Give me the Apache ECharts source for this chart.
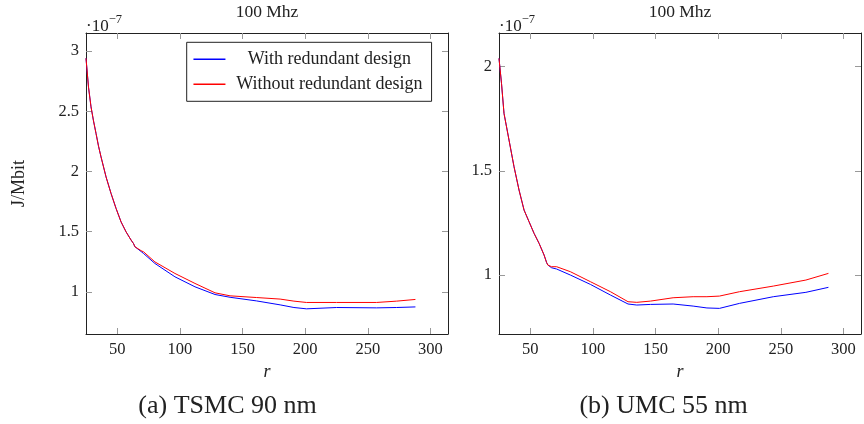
<!DOCTYPE html>
<html><head><meta charset="utf-8">
<script src="https://cdn.jsdelivr.net/npm/echarts@6/dist/echarts.min.js"></script>
<style>html,body{margin:0;padding:0;background:#fff}#c{width:864px;height:424px}</style>
</head><body><div id="c"></div>
<script>
// Energy values in units of 1e-7 J/Mbit
const rA = [25, 27, 29, 31, 33, 35, 37, 41, 45, 49, 53, 57, 61, 63, 64, 69, 71, 80, 96, 112, 128, 140, 161, 180, 191, 201, 225, 257, 273, 288];
const withA = [2.94, 2.70, 2.537, 2.42, 2.316, 2.21, 2.121, 1.955, 1.817, 1.693, 1.581, 1.498, 1.43, 1.40, 1.375, 1.335, 1.318, 1.236, 1.125, 1.042, 0.978, 0.955, 0.925, 0.892, 0.870, 0.859, 0.870, 0.867, 0.870, 0.875];
const withoutA = [2.94, 2.70, 2.537, 2.42, 2.316, 2.21, 2.121, 1.955, 1.817, 1.693, 1.581, 1.498, 1.43, 1.40, 1.375, 1.342, 1.332, 1.249, 1.153, 1.070, 0.992, 0.967, 0.953, 0.940, 0.923, 0.912, 0.912, 0.912, 0.923, 0.937];
const rB = [25, 27, 29, 33, 37, 41, 45, 49, 53, 57, 61, 63, 64, 67, 71, 82, 98, 114, 128, 135, 146, 164, 180, 191, 201, 217, 244, 270, 288];
const withB = [2.04, 1.92, 1.776, 1.648, 1.52, 1.408, 1.312, 1.256, 1.20, 1.152, 1.096, 1.06, 1.048, 1.035, 1.029, 1.000, 0.955, 0.904, 0.861, 0.856, 0.859, 0.861, 0.851, 0.842, 0.840, 0.864, 0.896, 0.917, 0.941];
const withoutB = [2.04, 1.92, 1.776, 1.648, 1.52, 1.408, 1.312, 1.256, 1.20, 1.152, 1.096, 1.06, 1.048, 1.040, 1.040, 1.016, 0.968, 0.920, 0.872, 0.869, 0.875, 0.891, 0.896, 0.896, 0.899, 0.920, 0.947, 0.976, 1.008];
const xTicks = [50, 100, 150, 200, 250, 300];
const yTicksA = [1, 1.5, 2, 2.5, 3];
const yTicksB = [1, 1.5, 2];
const seriesNames = ['With redundant design', 'Without redundant design'];
const titles = ['100 Mhz', '100 Mhz'];
const captions = ['(a) TSMC 90 nm', '(b) UMC 55 nm'];
const yLabel = 'J/Mbit';
const xLabel = 'r';

const FONT = 'Liberation Serif';
const chart = echarts.init(document.getElementById('c'), null, {renderer: 'canvas'});

const grids = [
  {left: 86, top: 33, width: 362, height: 301},
  {left: 499, top: 33, width: 362, height: 301}
];
const yRanges = [[0.65, 3.15], [0.717, 2.162]];
const yTicksList = [yTicksA, yTicksB];

function xAx(g, pos, show) {
  return {
    type: 'value', gridIndex: g, position: pos, min: 25, max: 314,
    axisLine: {show: true, onZero: false, lineStyle: {color: '#222', width: 1}},
    axisTick: {show: true, inside: true, length: 6, customValues: xTicks, lineStyle: {color: '#999'}},
    axisLabel: {show: show, customValues: xTicks, margin: 7, color: '#222', fontFamily: FONT, fontSize: 16.5},
    splitLine: {show: false}
  };
}
function yAx(g, pos, show) {
  return {
    type: 'value', gridIndex: g, position: pos, min: yRanges[g][0], max: yRanges[g][1],
    axisLine: {show: true, onZero: false, lineStyle: {color: '#222', width: 1}},
    axisTick: {show: true, inside: true, length: 6, customValues: yTicksList[g], lineStyle: {color: '#999'}},
    axisLabel: {show: show, customValues: yTicksList[g], margin: 7, color: '#222', fontFamily: FONT, fontSize: 16.5},
    splitLine: {show: false}
  };
}

function pairs(xs, ys) { return xs.map((x, i) => [x, ys[i]]); }

const series = [
  {name: seriesNames[0], type: 'line', xAxisIndex: 0, yAxisIndex: 0, data: pairs(rA, withA), showSymbol: false, symbol: 'none', lineStyle: {color: '#0000ff', width: 1}, itemStyle: {color: '#0000ff'}, z: 2},
  {name: seriesNames[1], type: 'line', xAxisIndex: 0, yAxisIndex: 0, data: pairs(rA, withoutA), showSymbol: false, symbol: 'none', lineStyle: {color: '#ff0000', width: 1}, itemStyle: {color: '#ff0000'}, z: 3},
  {name: seriesNames[0], type: 'line', xAxisIndex: 2, yAxisIndex: 2, data: pairs(rB, withB), showSymbol: false, symbol: 'none', lineStyle: {color: '#0000ff', width: 1}, itemStyle: {color: '#0000ff'}, z: 2},
  {name: seriesNames[1], type: 'line', xAxisIndex: 2, yAxisIndex: 2, data: pairs(rB, withoutB), showSymbol: false, symbol: 'none', lineStyle: {color: '#ff0000', width: 1}, itemStyle: {color: '#ff0000'}, z: 3}
];

const txt = (x, y, text, size, extra) => Object.assign({
  type: 'text', x: x, y: y,
  style: Object.assign({text: text, fill: '#222', font: size + 'px "' + FONT + '"', align: 'center', verticalAlign: 'middle'}, extra || {})
});

const graphics = [];
grids.forEach((g, i) => {
  const cx = g.left + g.width / 2;
  graphics.push(txt(cx, 12, titles[i], 17.5));
  graphics.push({
    type: 'text', x: g.left, y: 24,
    style: {
      text: '{a|·10}{b|−7}',
      rich: {
        a: {fontFamily: FONT, fontSize: 17, fill: '#222', verticalAlign: 'bottom'},
        b: {fontFamily: FONT, fontSize: 12.5, fill: '#222', padding: [0, 0, 9, 0], verticalAlign: 'bottom'}
      },
      align: 'left', verticalAlign: 'middle'
    }
  });
  graphics.push(txt(cx, 372, xLabel, 18, {font: 'italic 18px "' + FONT + '"'}));
});
graphics.push(txt(227.5, 406, captions[0], 26));
graphics.push(txt(663.6, 406, captions[1], 26));
graphics.push({type: 'text', x: 19, y: 183.5, rotation: Math.PI / 2,
  style: {text: yLabel, fill: '#222', font: '18px "' + FONT + '"', align: 'center', verticalAlign: 'middle'}});

chart.setOption({
  animation: false,
  backgroundColor: '#fff',
  grid: grids,
  xAxis: [xAx(0, 'bottom', true), xAx(0, 'top', false), xAx(1, 'bottom', true), xAx(1, 'top', false)],
  yAxis: [yAx(0, 'left', true), yAx(0, 'right', false), yAx(1, 'left', true), yAx(1, 'right', false)],
  legend: {
    left: 186.7, top: 42.3, orient: 'vertical', selectedMode: false,
    data: seriesNames,
    itemWidth: 32, itemHeight: 14, itemGap: 7,
    padding: [8, 9, 8, 6],
    itemStyle: {opacity: 0},
    lineStyle: {width: 1.5},
    borderColor: '#222', borderWidth: 1, backgroundColor: '#fff',
    formatter: function (n) { return '{t|' + n + '}'; },
    textStyle: {
      color: '#222', fontFamily: FONT, fontSize: 18,
      rich: {t: {width: 198, align: 'center', fontFamily: FONT, fontSize: 18, color: '#222'}}
    }
  },
  series: series,
  graphic: graphics
});
</script>
</body></html>
